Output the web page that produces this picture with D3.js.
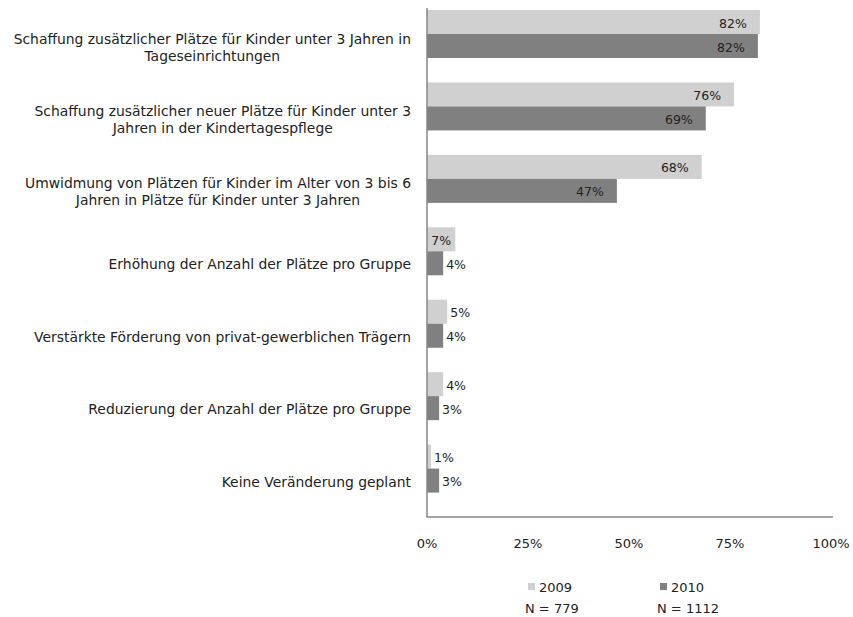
<!DOCTYPE html>
<html>
<head>
<meta charset="utf-8">
<script src="https://cdn.jsdelivr.net/npm/d3@7"></script>
<style>
  html, body { margin: 0; padding: 0; background: #fff; }
  svg { display: block; font-family: "DejaVu Sans", Verdana, sans-serif; }
</style>
</head>
<body>
<svg id="chart" width="853" height="617"></svg>
<script>
const categories = [
  ["Schaffung zusätzlicher Plätze für Kinder unter 3 Jahren in", "Tageseinrichtungen"],
  ["Schaffung zusätzlicher neuer Plätze für Kinder unter 3", "Jahren in der Kindertagespflege"],
  ["Umwidmung von Plätzen für Kinder im Alter von 3 bis 6", "Jahren in Plätze für Kinder unter 3 Jahren"],
  ["Erhöhung der Anzahl der Plätze pro Gruppe"],
  ["Verstärkte Förderung von privat-gewerblichen Trägern"],
  ["Reduzierung der Anzahl der Plätze pro Gruppe"],
  ["Keine Veränderung geplant"]
];
const seriesNames = ["2009", "2010"];
const seriesN = ["N = 779", "N = 1112"];
const values2009 = [82.4, 76, 68, 7, 5, 4, 1];
const values2010 = [81.9, 69, 47, 4, 4, 3, 3];
const xTicks = [0, 25, 50, 75, 100];
const colors = ["#d0d0d0", "#808080"];

const svg = d3.select("#chart");
const x = d3.scaleLinear().domain([0, 100]).range([427, 831]);
const catIdx = categories.map((d, i) => i);
const y = d3.scaleBand().domain(catIdx).range([10, 517])
  .paddingInner(0.337).paddingOuter(0.337 / 2).align(0);
const ySub = d3.scaleBand().domain([0, 1]).range([0, y.bandwidth()]);

const data = catIdx.map(i => ({ i, vals: [values2009[i], values2010[i]] }));

// bars
const groups = svg.append("g").selectAll("g").data(data).join("g")
  .attr("transform", d => `translate(0,${y(d.i)})`);
groups.selectAll("rect").data(d => d.vals.map((v, s) => ({ v, s }))).join("rect")
  .attr("x", x(0))
  .attr("y", d => ySub(d.s))
  .attr("width", d => x(d.v) - x(0))
  .attr("height", ySub.bandwidth())
  .attr("fill", d => colors[d.s]);

// value labels
groups.selectAll("text").data(d => d.vals.map((v, s) => ({ v, s }))).join("text")
  .attr("font-size", 12.5)
  .attr("fill", "#222")
  .attr("y", d => ySub(d.s) + ySub.bandwidth() / 2 + 1)
  .attr("dominant-baseline", "central")
  .text(d => Math.round(d.v) + "%")
  .each(function(d) {
    const w = this.getComputedTextLength();
    const bw = x(d.v) - x(0);
    const el = d3.select(this);
    if (bw > w + 8) {
      const gap = Math.min(13, (bw - w) / 2);
      el.attr("text-anchor", "end").attr("x", x(d.v) - gap);
    } else {
      el.attr("text-anchor", "start").attr("x", x(d.v) + 3);
    }
  });

// axes lines
svg.append("line").attr("x1", x(0)).attr("x2", x(0)).attr("y1", 8).attr("y2", 517)
  .attr("stroke", "#868686").attr("stroke-width", 1.5);
svg.append("line").attr("x1", x(0) - 0.75).attr("x2", 833).attr("y1", 517).attr("y2", 517)
  .attr("stroke", "#868686").attr("stroke-width", 1.5);

// x tick labels
svg.append("g").selectAll("text").data(xTicks).join("text")
  .attr("x", d => x(d)).attr("y", 543)
  .attr("text-anchor", "middle").attr("dominant-baseline", "central")
  .attr("font-size", 13).attr("fill", "#222")
  .text(d => d + "%");

// category labels (right-aligned block, lines centered)
const labelRight = 411;
const lineH = 17;
const catG = svg.append("g");
data.forEach(d => {
  const lines = categories[d.i];
  const cy = y(d.i) + ySub(1) + ySub.bandwidth() / 2 + 1;
  const t = catG.append("g");
  const texts = lines.map((ln, k) => t.append("text")
    .attr("font-size", 13.9).attr("fill", "#222")
    .attr("text-anchor", "middle").attr("dominant-baseline", "central")
    .attr("y", cy + (k - (lines.length - 1) / 2) * lineH)
    .text(ln));
  const maxW = d3.max(texts, tt => tt.node().getComputedTextLength());
  texts.forEach(tt => tt.attr("x", labelRight - maxW / 2));
});

// legend
const legX = [528, 660];
const lg = svg.append("g");
seriesNames.forEach((nm, s) => {
  lg.append("rect").attr("x", legX[s]).attr("y", 583).attr("width", 7).attr("height", 7)
    .attr("fill", colors[s]);
  lg.append("text").attr("x", legX[s] + 11).attr("y", 587)
    .attr("dominant-baseline", "central").attr("font-size", 13).attr("fill", "#222")
    .text(nm);
  lg.append("text").attr("x", legX[s] - 3).attr("y", 608)
    .attr("dominant-baseline", "central").attr("font-size", 13).attr("fill", "#222")
    .text(seriesN[s]);
});
</script>
</body>
</html>
